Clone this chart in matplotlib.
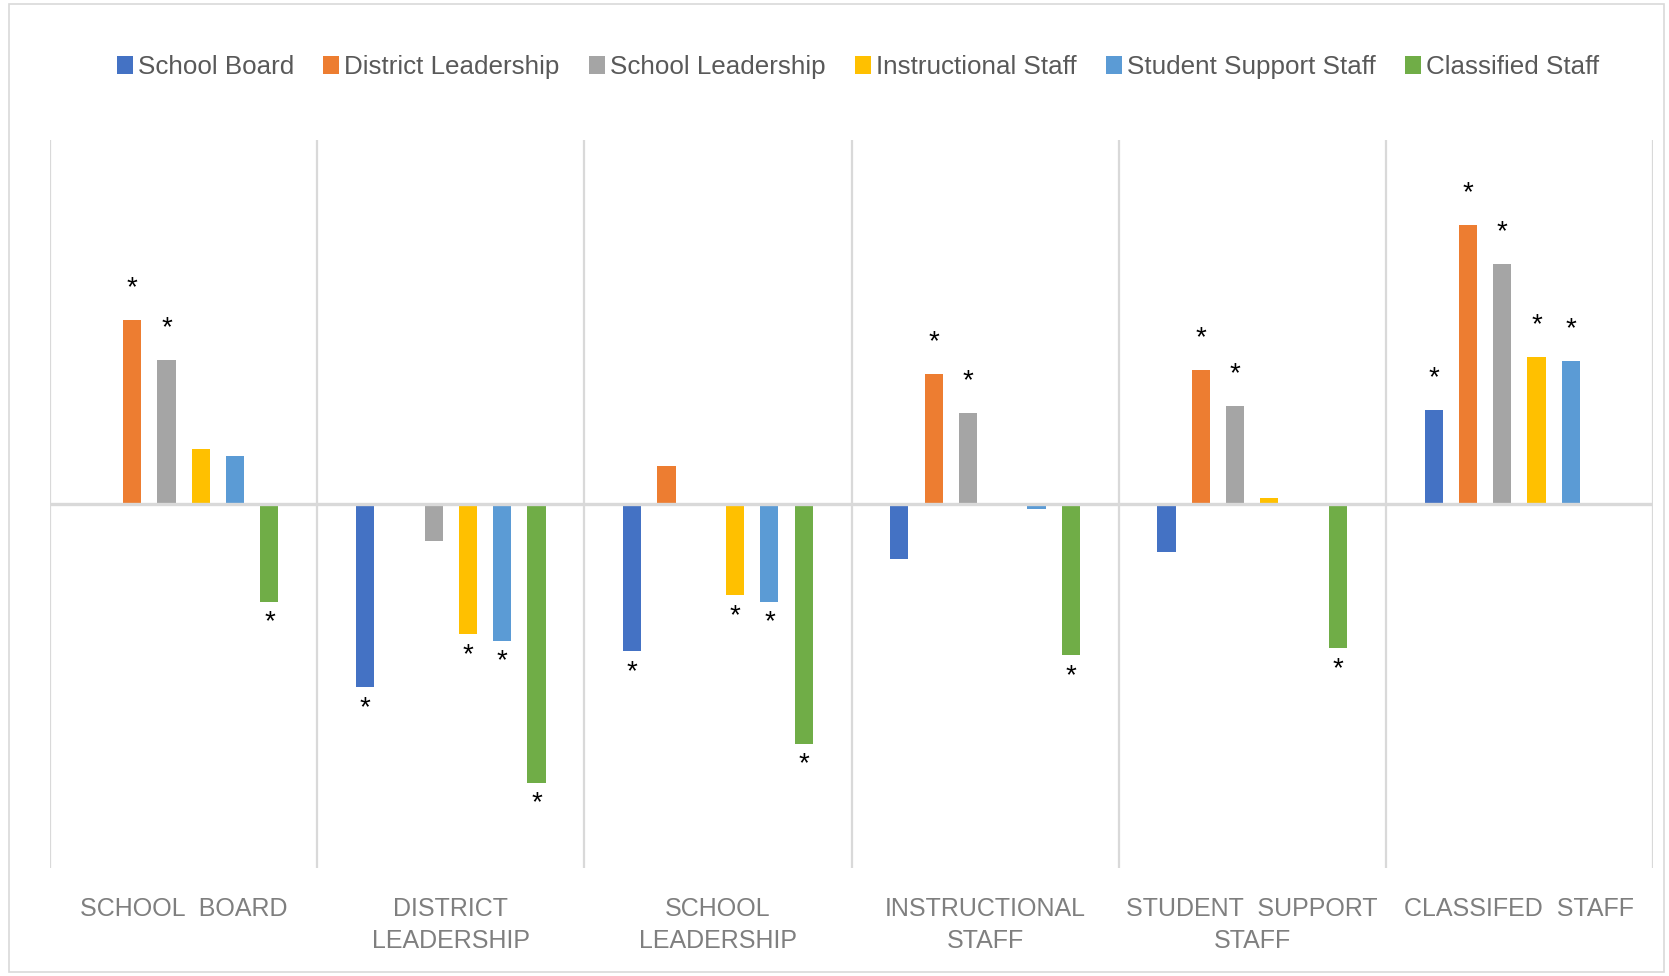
"""
Pairwise perception differences between staff groups, Excel-style clustered bar chart.
Stars mark significant differences.
"""

import numpy as np
import matplotlib
matplotlib.use("Agg")
import matplotlib.pyplot as plt
from matplotlib.patches import Rectangle

# groups on the x axis (as printed, incl. the typo)
groups = ["SCHOOL  BOARD", "DISTRICT\nLEADERSHIP", "SCHOOL\nLEADERSHIP",
          "INSTRUCTIONAL\nSTAFF", "STUDENT  SUPPORT\nSTAFF", "CLASSIFED  STAFF"]

series = ["School Board", "District Leadership", "School Leadership",
          "Instructional Staff", "Student Support Staff", "Classified Staff"]

nan = np.nan
school_board     = [nan, -0.503, -0.404, -0.151, -0.132, 0.258]
district_lead    = [0.505, nan, 0.104, 0.357, 0.368, 0.766]
school_lead      = [0.396, -0.102, nan, 0.250, 0.269, 0.659]
instructional    = [0.151, -0.357, -0.250, nan, 0.016, 0.404]
student_support  = [0.132, -0.376, -0.269, -0.014, nan, 0.393]
classified       = [-0.269, -0.766, -0.659, -0.415, -0.396, nan]

# 1 = significant (star label)
sig_school_board    = [0, 1, 1, 0, 0, 1]
sig_district_lead   = [1, 0, 0, 1, 1, 1]
sig_school_lead     = [1, 0, 0, 1, 1, 1]
sig_instructional   = [0, 1, 1, 0, 0, 1]
sig_student_support = [0, 1, 1, 0, 0, 1]
sig_classified      = [1, 1, 1, 1, 1, 0]

values = [school_board, district_lead, school_lead, instructional, student_support, classified]
sigs = [sig_school_board, sig_district_lead, sig_school_lead,
        sig_instructional, sig_student_support, sig_classified]
colors = ["#4472C4", "#ED7D31", "#A5A5A5", "#FFC000", "#5B9BD5", "#70AD47"]

plt.rcParams["font.family"] = ["Liberation Sans", "DejaVu Sans"]

fig = plt.figure(figsize=(16.69, 9.76), dpi=100)
ax = fig.add_axes([50 / 1669, 1 - 868 / 976, 1603 / 1669, 728 / 976])

x = np.arange(len(groups))
step = 0.1285
width = 0.068
handles = []
for i, (name, vals, sg, col) in enumerate(zip(series, values, sigs, colors)):
    xs = x + (i - 2.5) * step
    b = ax.bar(xs, vals, width=width, color=col, label=name, zorder=2)
    handles.append(b)
    for xi, v, s in zip(xs, vals, sg):
        if s and not np.isnan(v):
            off = 18 if v > 0 else -20
            ax.annotate("*", (xi, v), xytext=(0, off), textcoords="offset points",
                        ha="center", va="baseline", fontsize=20, color="black")

ax.set_xlim(-0.5, 5.5)
ax.set_ylim(-1, 1)
ax.axhline(0, color="#d9d9d9", lw=2.4, zorder=3)
for xv in np.arange(-0.5, 6, 1):
    ax.axvline(xv, color="#d9d9d9", lw=1.6, zorder=1)

for s in ax.spines.values():
    s.set_visible(False)
ax.set_yticks([])
ax.set_xticks(x)
ax.set_xticklabels(groups, fontsize=18, color="#7f7f7f", linespacing=1.4, va="top")
ax.tick_params(axis="x", length=0, pad=21)

fig.legend(handles=handles, loc="center", bbox_to_anchor=(858 / 1669, 1 - 67 / 976),
           ncol=6, frameon=False, fontsize=18.7, handlelength=0.62, handleheight=0.7,
           handletextpad=0.2, columnspacing=1.12, labelcolor="#595959")

# outer chart border
fig.patches.append(Rectangle((9 / 1669, 4 / 976), 1655 / 1669, 968 / 976,
                             transform=fig.transFigure, fill=False,
                             edgecolor="#d9d9d9", lw=1.2))

fig.savefig("out.png", dpi=100)
